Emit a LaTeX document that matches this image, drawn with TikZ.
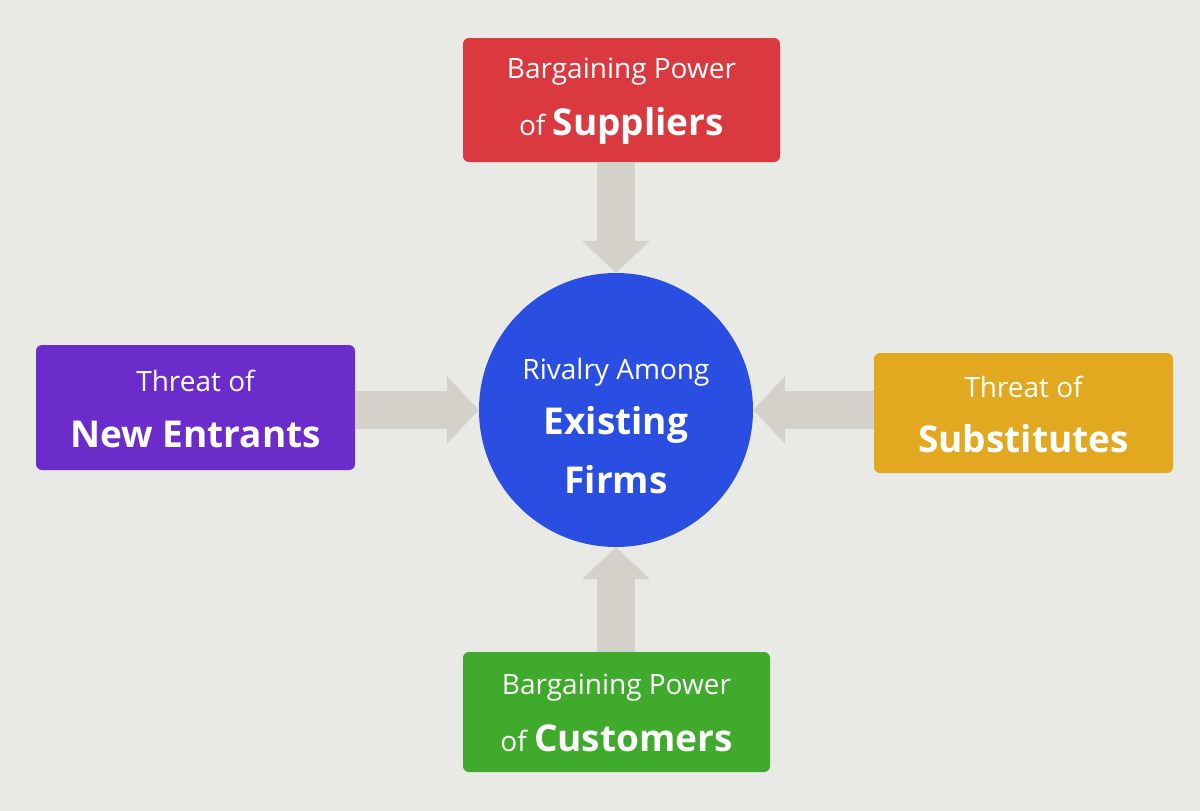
\documentclass[tikz,border=0pt]{standalone}
\usepackage{fontspec}
\setmainfont{Open Sans}
\usetikzlibrary{arrows.meta}
\definecolor{bgcol}{HTML}{E9E9E6}
\definecolor{sred}{HTML}{D9393F}
\definecolor{spurple}{HTML}{6B2CCB}
\definecolor{syellow}{HTML}{E2A81F}
\definecolor{sgreen}{HTML}{3FAA2C}
\definecolor{sblue}{HTML}{2B4EE2}
\definecolor{sarrow}{HTML}{D3D1C9}
\begin{document}
\begin{tikzpicture}[x=1pt,y=-1pt,
  box/.style={rounded corners=6pt,inner sep=0pt},
  conn/.style={sarrow,line width=38pt,-{Triangle[length=32pt,width=66pt]}},
  tx/.style={text=white,inner sep=0pt}]
\fill[bgcol] (0,0) rectangle (1200,811);
\node[box,fill=sred,minimum width=317pt,minimum height=124pt] (sup) at (621.5,100) {};
\node[box,fill=spurple,minimum width=319pt,minimum height=125pt] (ent) at (195.5,407.5) {};
\node[box,fill=syellow,minimum width=299pt,minimum height=120pt] (sub) at (1023.5,413) {};
\node[box,fill=sgreen,minimum width=307pt,minimum height=120pt] (cus) at (616.5,712) {};
\node[circle,fill=sblue,minimum size=274pt,inner sep=0pt] (fir) at (616,410) {};
\coordinate (a1) at (sup.south -| fir.north);
\coordinate (a2) at (ent.east |- fir.west);
\coordinate (a3) at (sub.west |- fir.east);
\coordinate (a4) at (cus.north -| fir.south);
\draw[conn] (a1) -- (fir.north);
\draw[conn] (a2) -- (fir.west);
\draw[conn] (a3) -- (fir.east);
\draw[conn] (a4) -- (fir.south);
\node[tx] (t1) at (621.5,72) {\fontsize{28}{34}\selectfont Bargaining Power};
\node[tx] (t2) at (621.5,126) {\fontsize{28}{34}\selectfont of \fontsize{37}{46}\selectfont\bfseries Suppliers};
\node[tx] (t3) at (195.5,381) {\fontsize{28}{34}\selectfont Threat of};
\node[tx] (t4) at (195.5,434) {\fontsize{37}{46}\selectfont\bfseries New Entrants};
\node[tx] (t5) at (1023.5,387) {\fontsize{28}{34}\selectfont Threat of};
\node[tx] (t6) at (1023.5,439) {\fontsize{37}{46}\selectfont\bfseries Substitutes};
\node[tx] (t7) at (616.5,688) {\fontsize{28}{34}\selectfont Bargaining Power};
\node[tx] (t8) at (616.5,738) {\fontsize{28}{34}\selectfont of \fontsize{37}{46}\selectfont\bfseries Customers};
\node[tx] (t9) at (616,372) {\fontsize{28}{34}\selectfont Rivalry Among};
\node[tx] (t10) at (616,425) {\fontsize{37}{46}\selectfont\bfseries Existing};
\node[tx] (t11) at (616,480) {\fontsize{37}{46}\selectfont\bfseries Firms};
\end{tikzpicture}
\end{document}
